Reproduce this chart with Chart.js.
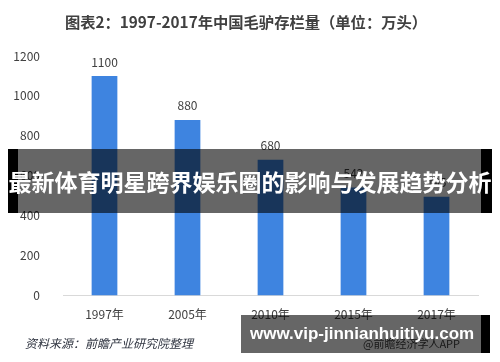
<!DOCTYPE html>
<html>
<head>
<meta charset="utf-8">
<script src="https://cdn.jsdelivr.net/npm/chart.js@4.4.0/dist/chart.umd.min.js"></script>
<style>
    html, body { margin: 0; padding: 0; background: #fff; }
    #wrap { position: relative; width: 500px; height: 362px; overflow: hidden; font-family: "Noto Sans CJK SC", sans-serif; }
    #chartTitle { position: absolute; left: 0; width: 492px; top: 10px; text-align: center; font-size: 15.3px; font-weight: bold; color: #404040; }
    #source { position: absolute; left: 25px; top: 334px; font-size: 12px; font-style: italic; color: #2f3440; }
    #app { position: absolute; left: 363px; top: 335px; font-size: 11px; color: #404040; }
    .band { position: absolute; background: rgba(0,0,0,0.6); color: #fff; font-weight: bold; white-space: nowrap; }
    .band .edge { position: absolute; top: 0; bottom: 0; background: #000; }
    #band1 { left: 8px; width: 484px; top: 149px; height: 64px; }
    #band1 span { position: absolute; left: 0; width: 484px; text-align: center; top: 17px; font-size: 23px; line-height: 30px; }
    #band2 { left: 241px; width: 249px; top: 315px; height: 38px; }
    #band2 span { position: absolute; left: 9px; top: 8px; font-size: 17px; line-height: 22px; font-family: "Liberation Sans", Arial, sans-serif; }
</style>
</head>
<body>
<div id="wrap">
    <canvas id="donkeyChart" width="500" height="362"></canvas>
    <div id="chartTitle">图表2：1997-2017年中国毛驴存栏量（单位：万头）</div>
    <div id="source">资料来源：前瞻产业研究院整理</div>
    <div id="app">@前瞻经济学人APP</div>
    <div class="band" id="band1">
        <div class="edge" style="left:0;width:10px"></div>
        <div class="edge" style="right:0;width:11px"></div>
        <span>最新体育明星跨界娱乐圈的影响与发展趋势分析</span>
    </div>
    <div class="band" id="band2">
        <div class="edge" style="right:0;width:9px"></div>
        <span>www.vip-jinnianhuitiyu.com</span>
    </div>
</div>
<script>
var years = ['1997年', '2005年', '2010年', '2015年', '2017年'];
var stock = [1100, 880, 680, 542, 495];
var yTicks = [0, 200, 400, 600, 800, 1000, 1200];

// value labels above each bar
var valueLabels = {
    id: 'valueLabels',
    afterDatasetsDraw: function(chart) {
        var ctx = chart.ctx;
        var meta = chart.getDatasetMeta(0);
        ctx.save();
        ctx.font = '12px "Noto Sans CJK SC", sans-serif';
        ctx.fillStyle = '#404040';
        ctx.textAlign = 'center';
        ctx.textBaseline = 'middle';
        meta.data.forEach(function(bar, i) {
            ctx.fillText(chart.data.datasets[0].data[i], bar.x, bar.y - 14);
        });
        ctx.restore();
    }
};

document.addEventListener('DOMContentLoaded', function() {
    var ctx = document.getElementById('donkeyChart').getContext('2d');
    new Chart(ctx, {
        type: 'bar',
        data: {
            labels: years,
            datasets: [{
                data: stock,
                backgroundColor: '#3e84e0',
                barPercentage: 0.31,
                categoryPercentage: 1
            }]
        },
        options: {
            responsive: false,
            animation: false,
            layout: { padding: { top: 56, right: 22, bottom: 36, left: 0 } },
            scales: {
                x: {
                    grid: { display: false },
                    border: { display: true, color: '#d9d9d9' },
                    ticks: {
                        color: '#404040',
                        padding: 4,
                        font: { size: 12, family: '"Noto Sans CJK SC", sans-serif' }
                    }
                },
                y: {
                    min: 0,
                    max: 1200,
                    afterFit: function(scale) { scale.width = 63; },
                    afterBuildTicks: function(scale) {
                        scale.ticks = yTicks.map(function(v) { return { value: v }; });
                    },
                    grid: { display: false },
                    border: { display: false },
                    ticks: {
                        color: '#404040',
                        padding: 15,
                        callback: function(v) { return String(v); },
                        font: { size: 12, family: '"Noto Sans CJK SC", sans-serif' }
                    }
                }
            },
            plugins: {
                legend: { display: false },
                tooltip: { enabled: false }
            }
        },
        plugins: [valueLabels]
    });
});
</script>
</body>
</html>
